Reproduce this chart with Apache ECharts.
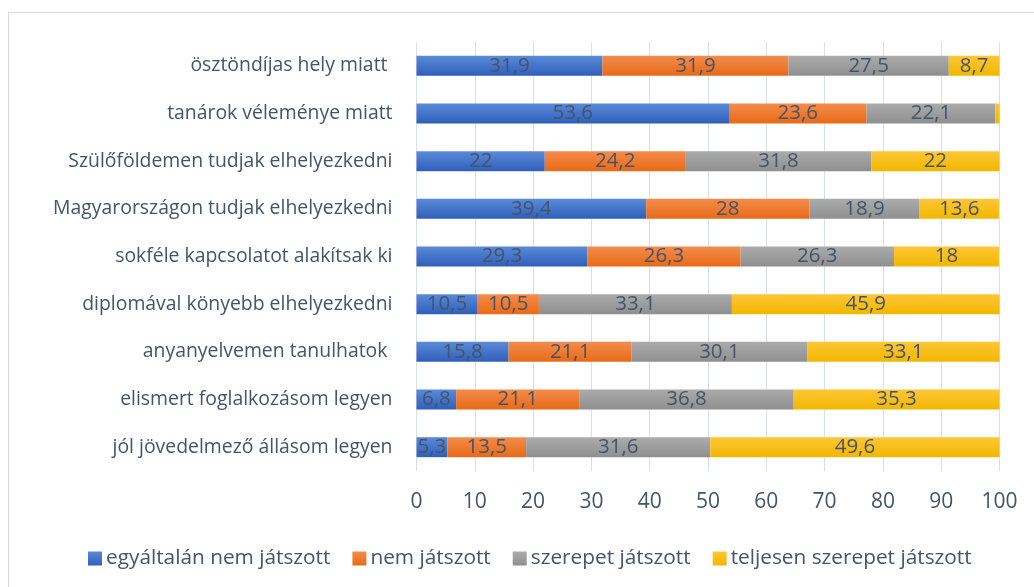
<!DOCTYPE html>
<html><head><meta charset="utf-8">
<script src="https://cdn.jsdelivr.net/npm/echarts@6/dist/echarts.min.js"></script>
<style>html,body{margin:0;padding:0;background:#fff}#c{width:1034px;height:587px}</style>
</head><body><div id="c"></div>
<script>
const categories = [
  "jól jövedelmező állásom legyen",
  "elismert foglalkozásom legyen",
  "anyanyelvemen tanulhatok ",
  "diplomával könyebb elhelyezkedni",
  "sokféle kapcsolatot alakítsak ki",
  "Magyarországon tudjak elhelyezkedni",
  "Szülőföldemen tudjak elhelyezkedni",
  "tanárok véleménye miatt",
  "ösztöndíjas hely miatt "
];
const seriesNames = ["egyáltalán nem játszott", "nem játszott", "szerepet játszott", "teljesen szerepet játszott"];
const egyaltalanNem = [5.3, 6.8, 15.8, 10.5, 29.3, 39.4, 22, 53.6, 31.9];
const nemJatszott   = [13.5, 21.1, 21.1, 10.5, 26.3, 28, 24.2, 23.6, 31.9];
const szerepet      = [31.6, 36.8, 30.1, 33.1, 26.3, 18.9, 31.8, 22.1, 27.5];
const teljesen      = [49.6, 35.3, 33.1, 45.9, 18, 13.6, 22, 1.1, 8.7];
const xTicks = [0, 10, 20, 30, 40, 50, 60, 70, 80, 90, 100];

const FONT = "Open Sans";
const TXT = "#44546A";
const grads = [
  ["#5B8AD8", "#2F5FB9"],
  ["#F38C4C", "#E86A17"],
  ["#ABABAB", "#8F8F8F"],
  ["#FFC636", "#F1B700"]
];
const datas = [egyaltalanNem, nemJatszott, szerepet, teljesen];
const chart = echarts.init(document.getElementById('c'), null, {renderer: 'canvas'});
chart.setOption({
  animation: false,
  graphic: [{type: 'rect', shape: {x: 8.5, y: 12.5, width: 1100, height: 700}, style: {fill: 'none', stroke: '#D9D9D9', lineWidth: 1}, silent: true}],
  grid: {left: 416.5, right: 34.5, top: 42, bottom: 116, containLabel: false},
  legend: {
    left: 83, top: 543, itemWidth: 14, itemHeight: 14, itemGap: 22, icon: 'rect',
    textStyle: {fontFamily: FONT, fontSize: 20.8, color: TXT, padding: [0, 0, 0, -1]},
    data: seriesNames
  },
  xAxis: {
    type: 'value', min: xTicks[0], max: xTicks[xTicks.length - 1], interval: 10,
    axisLine: {show: false}, axisTick: {show: false},
    splitLine: {lineStyle: {color: '#D9DEE7', width: 1}},
    axisLabel: {fontFamily: FONT, fontSize: 21, color: TXT, margin: 21}
  },
  yAxis: {
    type: 'category', data: categories,
    axisLine: {show: false}, axisTick: {show: false},
    axisLabel: {fontFamily: FONT, fontSize: 19.4, color: TXT, margin: 24}
  },
  series: datas.map((d, i) => ({
    name: seriesNames[i], type: 'bar', stack: 'all', barWidth: 20, data: d,
    itemStyle: {color: new echarts.graphic.LinearGradient(0, 0, 0, 1, [{offset: 0, color: grads[i][0]}, {offset: 1, color: grads[i][1]}])},
    label: {
      show: true, position: 'inside', fontFamily: FONT, fontSize: 20.5, color: TXT,
      formatter: p => p.value < 2 ? '' : String(p.value).replace('.', ',')
    }
  }))
});
</script></body></html>
